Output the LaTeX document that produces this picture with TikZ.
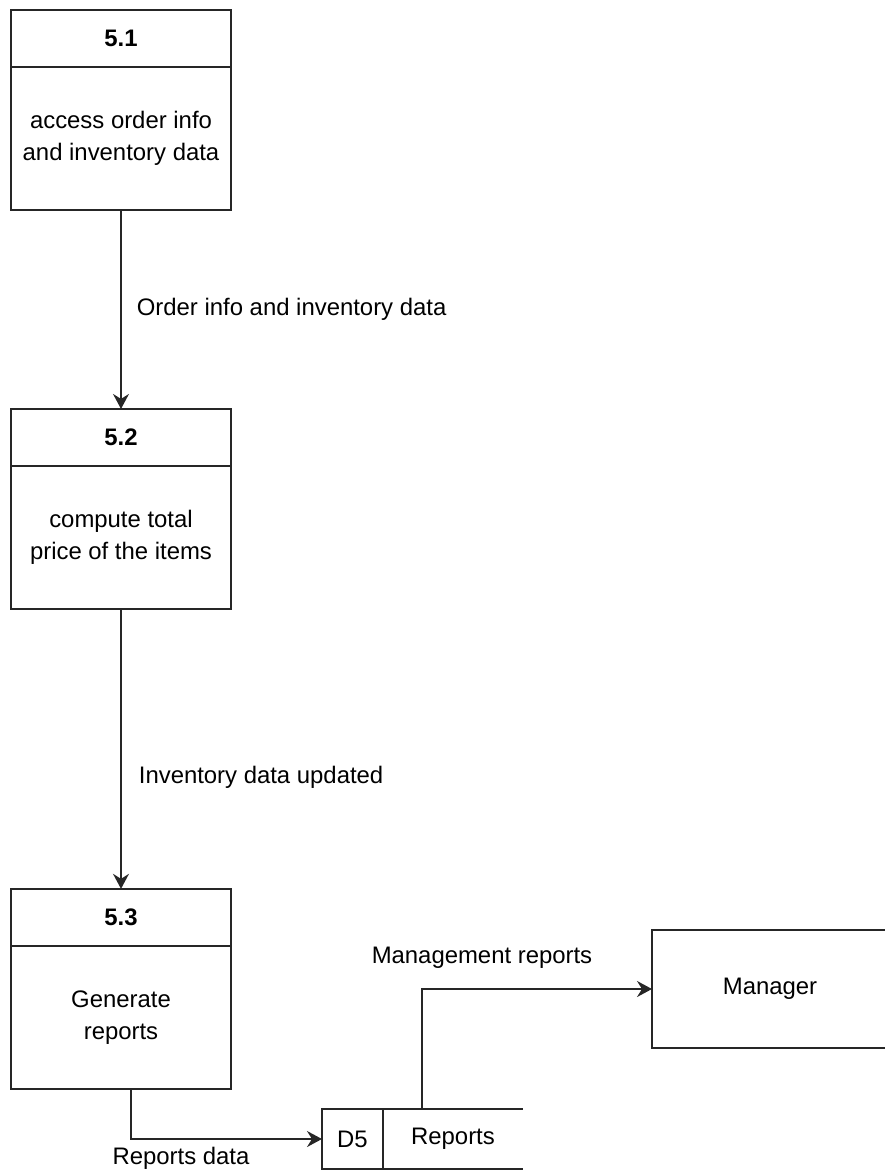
\documentclass[tikz,border=0pt]{standalone}
\usepackage{fontspec}
\setmainfont{Liberation Sans}
\usetikzlibrary{positioning,arrows.meta}

\begin{document}
\begin{tikzpicture}[
  x = 0.02cm,
  y = -0.02cm,
  font = \fontsize{13.6pt}{18.1pt}\selectfont,
  line width = 1pt,
  draw = black!85,
  head/.style={draw,outer sep=0pt,minimum width=4.4cm,minimum height=1.14cm,
    font=\fontsize{13.6pt}{18.1pt}\selectfont\bfseries},
  body/.style={draw,outer sep=0pt,minimum width=4.4cm,minimum height=2.86cm,align=center},
  store/.style={draw,outer sep=0pt,minimum width=1.22cm,minimum height=1.2cm},
  entity/.style={draw,outer sep=0pt,minimum width=4.72cm,minimum height=2.36cm},
  flow/.style={-{Stealth[length=3mm,width=3.2mm,inset=1mm]}},
  lbl/.style={inner sep=0pt},
  ]
  \useasboundingbox (0,0) rectangle (885,1171);
  \clip (0,0) rectangle (885,1171);

  % processes
  \node [head, anchor=north] (h1) at (121,10) {5.1};
  \node [body, below=0pt of h1] (p1) {access order info\\and inventory data};
  \node [head, below=3.98cm of p1] (h2) {5.2};
  \node [body, below=0pt of h2] (p2) {compute total\\price of the items};
  \node [head, below=5.6cm of p2] (h3) {5.3};
  \node [body, below=0pt of h3] (p3) {Generate\\reports};

  % data store and external entity
  \node [store, anchor=west] (d5) at (322,1139) {D5};
  \node [outer sep=0pt, minimum width=2.8cm, minimum height=1.2cm, right=0pt of d5] (rep) {Reports};
  \draw (rep.north west) -- (rep.north east)
        (rep.south west) -- (rep.south east);
  \node [entity] (mgr) at (770,989) {Manager};

  \draw [flow] (p1) -- node [lbl, right=0.3cm] (l1) {Order info and inventory data} (h2);
  \draw [flow] (p2) -- node [lbl, pos=0.6, right=0.34cm] (l2) {Inventory data updated} (h3);
  \draw [flow] ([xshift=0.2cm]p3.south) |- (d5.west);
  \node [lbl] (l3) at (181,1158) {Reports data};
  \draw [flow] ([xshift=-0.62cm]rep.north) |- (mgr.west);
  \node [lbl] (l4) at (482,958) {Management reports};
\end{tikzpicture}
\end{document}
